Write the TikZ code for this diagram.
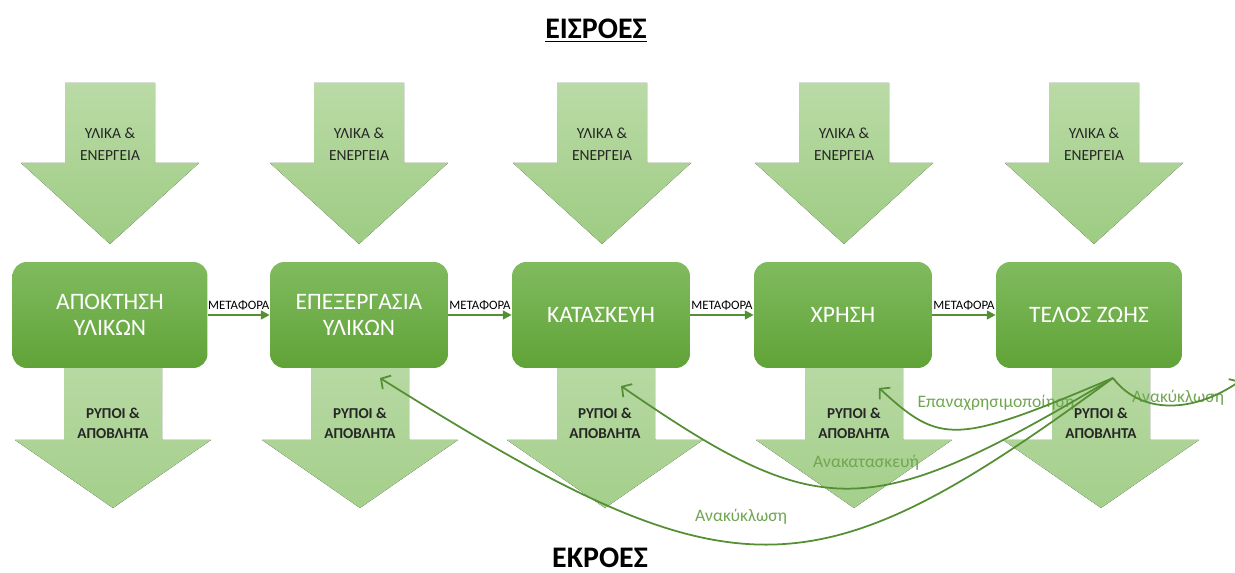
\documentclass[tikz,border=0pt]{standalone}
\usepackage{fontspec}
\setmainfont{Carlito}
\usetikzlibrary{arrows.meta}
\definecolor{boxtop}{RGB}{128,187,95}
\definecolor{boxbot}{RGB}{96,163,55}
\definecolor{intop}{RGB}{186,218,166}
\definecolor{inbot}{RGB}{158,204,131}
\definecolor{outtop}{RGB}{184,217,164}
\definecolor{outbot}{RGB}{164,207,139}
\definecolor{darkleaf}{RGB}{84,143,52}
\definecolor{leaftext}{RGB}{112,166,82}
\tikzset{>=Stealth,
  stage/.style={rounded corners=8pt,top color=boxtop,bottom color=boxbot,
    text=white,align=center,minimum height=2.12cm,inner sep=0pt,
    font=\fontsize{13.4}{15}\selectfont},
  inarrow/.style={top color=intop,bottom color=inbot},
  outarrow/.style={top color=outtop,bottom color=outbot},
  intext/.style={align=center,text=black!85,font=\fontsize{8.8}{12.5}\selectfont},
  outtext/.style={align=center,text=black!85,font=\bfseries\fontsize{8.6}{11.3}\selectfont},
  transfer/.style={draw=darkleaf,line width=1.1pt,-{Triangle[length=5pt,width=5pt]}},
  carry/.style={above,inner sep=1pt,yshift=1pt,text=black,font=\fontsize{7.3}{8}\selectfont},
  loopback/.style={draw=darkleaf,line width=1pt,-{Straight Barb[length=4pt,width=9pt]}},
  looplabel/.style={text=leaftext,inner sep=0pt,font=\fontsize{10}{11}\selectfont},
  heading/.style={text=black,inner sep=0pt,font=\bfseries\fontsize{17}{20}\selectfont}}

\begin{document}
\begin{tikzpicture}[x=0.02cm,y=-0.02cm]
\useasboundingbox (0,0) rectangle (1235,573);

% Headings
\node[heading] (IN) at (596,31) {\underline{ΕΙΣΡΟΕΣ}};
\node[heading] (OUT) at (600,558) {ΕΚΡΟΕΣ};

% Input arrows
\fill[inarrow] (65,83) -- (155,83) -- (155,163) -- (199,163) -- (110,244)
  -- (21,163) -- (65,163) -- cycle;
\fill[inarrow] (314,83) -- (404,83) -- (404,163) -- (448,163) -- (359,244)
  -- (270,163) -- (314,163) -- cycle;
\fill[inarrow] (557,83) -- (647,83) -- (647,163) -- (691,163) -- (602,244)
  -- (513,163) -- (557,163) -- cycle;
\fill[inarrow] (799,83) -- (889,83) -- (889,163) -- (933,163) -- (844,244)
  -- (755,163) -- (799,163) -- cycle;
\fill[inarrow] (1049,83) -- (1139,83) -- (1139,163) -- (1183,163) -- (1094,244)
  -- (1005,163) -- (1049,163) -- cycle;

\node[intext] (IN1) at (110,144) {ΥΛΙΚΑ \&\\ΕΝΕΡΓΕΙΑ};
\node[intext] (IN2) at (359,144) {ΥΛΙΚΑ \&\\ΕΝΕΡΓΕΙΑ};
\node[intext] (IN3) at (602,144) {ΥΛΙΚΑ \&\\ΕΝΕΡΓΕΙΑ};
\node[intext] (IN4) at (844,144) {ΥΛΙΚΑ \&\\ΕΝΕΡΓΕΙΑ};
\node[intext] (IN5) at (1094,144) {ΥΛΙΚΑ \&\\ΕΝΕΡΓΕΙΑ};

% Output arrows
\fill[outarrow] (64,360) -- (162,360) -- (162,440) -- (211,440) -- (113,508)
  -- (15,440) -- (64,440) -- cycle;
\fill[outarrow] (311,360) -- (409,360) -- (409,440) -- (458,440) -- (360,508)
  -- (262,440) -- (311,440) -- cycle;
\fill[outarrow] (557,360) -- (655,360) -- (655,440) -- (703,440) -- (605,508)
  -- (507,440) -- (557,440) -- cycle;
\fill[outarrow] (805,360) -- (903,360) -- (903,440) -- (952,440) -- (854,508)
  -- (756,440) -- (805,440) -- cycle;
\fill[outarrow] (1052,360) -- (1150,360) -- (1150,440) -- (1199,440) -- (1101,508)
  -- (1003,440) -- (1052,440) -- cycle;

\node[outtext] (OUT1) at (113,423) {ΡΥΠΟΙ \&\\ΑΠΟΒΛΗΤΑ};
\node[outtext] (OUT2) at (360,423) {ΡΥΠΟΙ \&\\ΑΠΟΒΛΗΤΑ};
\node[outtext] (OUT3) at (605,423) {ΡΥΠΟΙ \&\\ΑΠΟΒΛΗΤΑ};
\node[outtext] (OUT4) at (854,423) {ΡΥΠΟΙ \&\\ΑΠΟΒΛΗΤΑ};
\node[outtext] (OUT5) at (1101,423) {ΡΥΠΟΙ \&\\ΑΠΟΒΛΗΤΑ};

% Life cycle stages
\node[stage,minimum width=3.9cm] (S1) at (110,315) {ΑΠΟΚΤΗΣΗ\\ΥΛΙΚΩΝ};
\node[stage,minimum width=3.56cm] (S2) at (359,315) {ΕΠΕΞΕΡΓΑΣΙΑ\\ΥΛΙΚΩΝ};
\node[stage,minimum width=3.56cm] (S3) at (601,315) {ΚΑΤΑΣΚΕΥΗ};
\node[stage,minimum width=3.56cm] (S4) at (843,315) {ΧΡΗΣΗ};
\node[stage,minimum width=3.72cm] (S5) at (1089,315) {ΤΕΛΟΣ ΖΩΗΣ};

\draw[transfer] (S1) -- node[carry] (M1) {ΜΕΤΑΦΟΡΑ} (S2);
\draw[transfer] (S2) -- node[carry] (M2) {ΜΕΤΑΦΟΡΑ} (S3);
\draw[transfer] (S3) -- node[carry] (M3) {ΜΕΤΑΦΟΡΑ} (S4);
\draw[transfer] (S4) -- node[carry] (M4) {ΜΕΤΑΦΟΡΑ} (S5);

% Loops back from end of life
\coordinate (R) at (1113,378);
\coordinate (T2) at (380,378);
\coordinate (T3) at (621,386);
\coordinate (T4) at (879,388);
\coordinate (T6) at (1240,381);

\node[looplabel] (L1) at (741,517) {Ανακύκλωση};
\node[looplabel] (L2) at (866,463) {Ανακατασκευή};
\node[looplabel] (L3) at (996,403) {Επαναχρησιμοποίηση};
\node[looplabel] (L4) at (1178,398) {Ανακύκλωση};

\draw[loopback] (R) .. controls (811,600) and (734,600) .. (T2);
\draw[loopback] (R) .. controls (868,524) and (821,524) .. (T3);
\draw[loopback] (R) .. controls (955,445) and (941,445) .. (T4);
\draw[loopback] (R) .. controls (1140,414) and (1192,414) .. (T6);

\end{tikzpicture}
\end{document}
